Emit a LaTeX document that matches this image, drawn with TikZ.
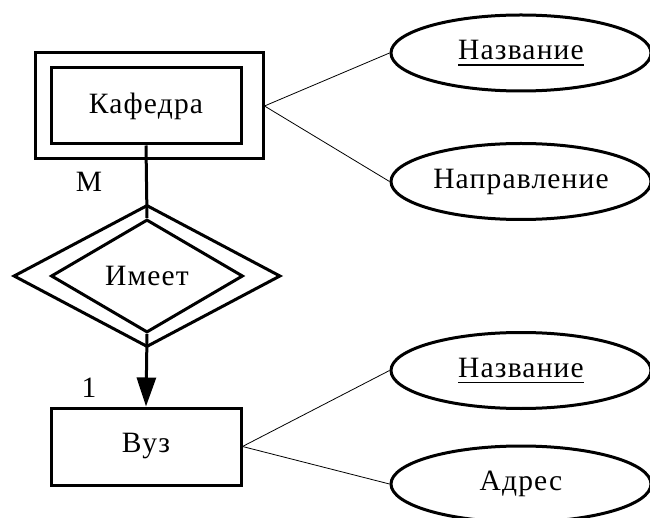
\documentclass[tikz,border=0pt]{standalone}
\usepackage{fontspec}
\setmainfont{Liberation Serif}[LetterSpace=4]
\usetikzlibrary{shapes.geometric,arrows.meta}
\tikzset{
  thickline/.style={line width=3pt},
  thinline/.style={line width=0.8pt},
  entbox/.style={draw, thickline, rectangle, inner sep=0pt},
  relbox/.style={draw, thickline, diamond, inner sep=0pt},
  attr/.style={draw, thickline, ellipse, inner sep=0pt, minimum width=260pt, minimum height=76pt},
  lbl/.style={inner sep=0pt},
  every node/.style={font=\fontsize{29.5}{32}\selectfont}
}
\newcommand{\myul}[1]{\setbox0\hbox{#1}\rlap{\rule[-6pt]{\wd0}{1.6pt}}\box0}
\begin{document}
\begin{tikzpicture}[x=1pt,y=-1pt]
\useasboundingbox (0,0) rectangle (650,518);
\clip (0,0) rectangle (650,518);
% Kafedra
\node[entbox, minimum width=228pt, minimum height=106pt] (kafo) at (149,106) {};
\node[entbox, minimum width=190pt, minimum height=76pt] (kaf) at (146,106) {Кафедра};
% Imeet
\node[relbox, minimum width=267pt, minimum height=142pt] (imo) at (147,276) {};
\node[relbox, minimum width=192pt, minimum height=113pt] (im) at (147,276) {Имеет};
% Vuz
\node[entbox, minimum width=190pt, minimum height=77pt] (vuz) at (146,446.5) {Вуз};
% attributes
\node[attr] (a1) at (521,53) {\myul{Название}};
\node[attr] (a2) at (521,181.5) {Направление};
\node[attr] (a3) at (521,370.5) {\myul{Название}};
\node[attr] (a4) at (521,484) {Адрес};
% labels
\node[lbl] (m) at (89,182) {M};
\node[lbl] (one) at (89,388) {1};
% connectors
\draw[thickline] (kaf.south) -- (im.north);
\draw[thickline, -{Triangle[length=29pt,width=19pt]}] (im.south) -- (vuz.north);
\draw[thinline] (kafo.east) -- (a1.west);
\draw[thinline] (kafo.east) -- (a2.west);
\draw[thinline] (vuz.east) -- (a3.west);
\draw[thinline] (vuz.east) -- (a4.west);
\end{tikzpicture}
\end{document}
